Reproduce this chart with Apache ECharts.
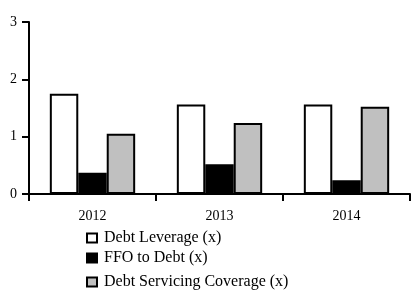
<!DOCTYPE html>
<html><head><meta charset="utf-8">
<script src="https://cdn.jsdelivr.net/npm/echarts@6/dist/echarts.min.js"></script>
<style>html,body{margin:0;padding:0;background:#fff}#c{width:413px;height:290px}</style>
</head><body><div id="c"></div>
<script>
const categories = ['2012', '2013', '2014'];
const debtLeverage = [1.75, 1.56, 1.56];
const ffoToDebt = [0.37, 0.52, 0.24];
const debtServicing = [1.05, 1.24, 1.52];
const seriesNames = ['Debt Leverage (x)', 'FFO to Debt (x)', 'Debt Servicing Coverage (x)'];
const yTicks = [0, 1, 2, 3];

const font = 'Liberation Serif';
const chart = echarts.init(document.getElementById('c'), null, {renderer: 'canvas'});
const barStyle = c => ({color: c, borderColor: '#000', borderWidth: 2});
const legendItem = (name, top, left) => ({
  data: [name], orient: 'vertical', left: left, top: top,
  icon: 'rect', itemWidth: 10, itemHeight: 9, itemGap: 0,
  itemStyle: {borderColor: '#000', borderWidth: 2},
  textStyle: {fontFamily: font, fontSize: 16, color: '#000', padding: [0, 0, 0, 2]},
  padding: 0, selectedMode: false
});
chart.setOption({
  animation: false,
  grid: {left: 29, right: 3, top: 22, bottom: 96, containLabel: false},
  legend: [
    legendItem(seriesNames[0], 230, 86),
    legendItem(seriesNames[1], 250, 86),
    legendItem(seriesNames[2], 274, 86)
  ],
  xAxis: {
    type: 'category', data: categories,
    axisLine: {lineStyle: {color: '#000', width: 2}},
    axisTick: {show: true, length: 7, lineStyle: {color: '#000', width: 2}},
    axisLabel: {fontFamily: font, fontSize: 14, color: '#000', margin: 15}
  },
  yAxis: {
    type: 'value', min: 0, max: 3, interval: 1,
    axisLine: {show: true, lineStyle: {color: '#000', width: 2}},
    axisTick: {show: true, length: 7, lineStyle: {color: '#000', width: 2}},
    splitLine: {show: false},
    axisLabel: {fontFamily: font, fontSize: 14, color: '#000', margin: 12, padding: [0, 0, 6, 0],
      formatter: v => yTicks.includes(v) ? String(v) : ''}
  },
  series: [
    {name: seriesNames[0], type: 'bar', data: debtLeverage, barWidth: '22.4%', barGap: '0%', itemStyle: barStyle('#ffffff')},
    {name: seriesNames[1], type: 'bar', data: ffoToDebt, barWidth: '22.4%', barGap: '0%', itemStyle: barStyle('#000000')},
    {name: seriesNames[2], type: 'bar', data: debtServicing, barWidth: '22.4%', barGap: '0%', itemStyle: barStyle('#c0c0c0')}
  ]
});
</script></body></html>
